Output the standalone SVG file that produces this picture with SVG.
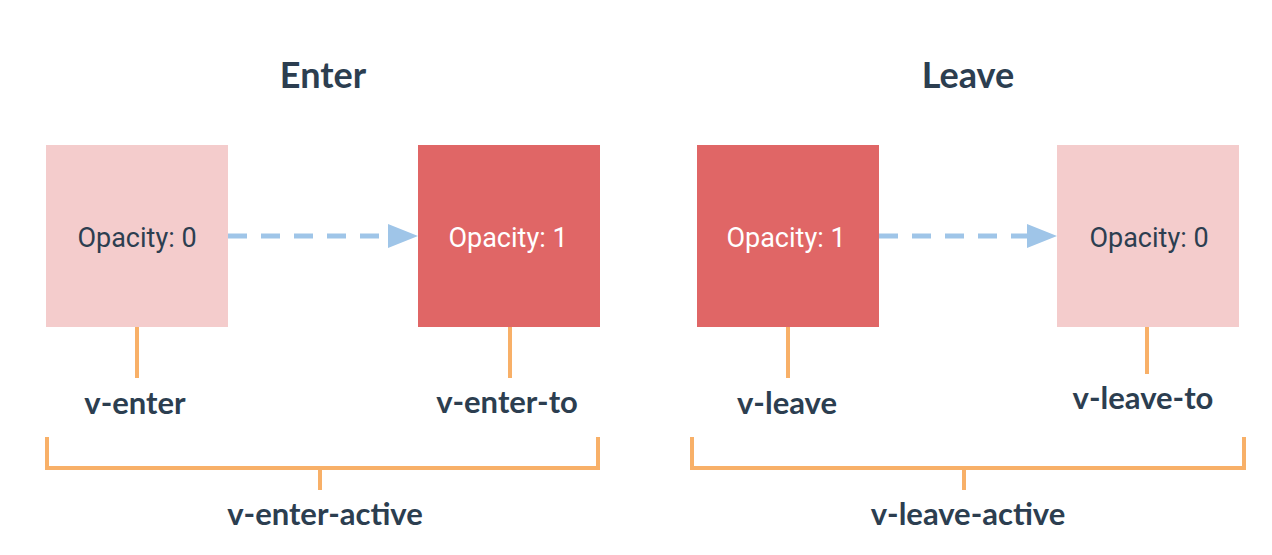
<svg xmlns="http://www.w3.org/2000/svg" width="1272" height="555" viewBox="0 0 1272 555">
<defs>
<style>
.light{fill:#f4cccc}
.dark{fill:#e06666}
.op{font-family:Roboto,"Liberation Sans",sans-serif;font-size:27px;text-anchor:middle}
.opd{fill:#2c3e50}
.opl{fill:#ffffff}
.title{font-family:Lato,"Liberation Sans",sans-serif;font-weight:700;font-size:36px;fill:#2c3e50;text-anchor:middle}
.lbl{font-family:Lato,"Liberation Sans",sans-serif;font-weight:700;font-size:31px;fill:#2c3e50;text-anchor:middle}
.tick{stroke:#f8b068;stroke-width:4;fill:none}
.dash{stroke:#9fc5e8;stroke-width:5;stroke-dasharray:19 14;fill:none}
</style>
</defs>
<rect width="1272" height="555" fill="#ffffff"/>
<text class="title" x="323" y="88">Enter</text>
<text class="title" x="968" y="88">Leave</text>
<g id="connectors">
<path class="dash" d="M228,236 H392"/>
<path d="M388,224 L418,236 L388,248 Z" fill="#9fc5e8"/>
<path class="dash" d="M879,236 H1030"/>
<path d="M1027,224 L1057,236 L1027,248 Z" fill="#9fc5e8"/>
<path class="tick" d="M137,327 V378"/>
<path class="tick" d="M510,327 V378"/>
<path class="tick" d="M788,327 V378"/>
<path class="tick" d="M1147,327 V374"/>
<path class="tick" d="M47,437 V468 H598 V437 M320,468 V490"/>
<path class="tick" d="M692,437 V468 H1244 V437 M964,468 V490"/>
</g>
<g id="enter-start">
<rect class="light" x="46" y="145" width="182" height="182"/>
<text class="op opd" x="137" y="247">Opacity: 0</text>
</g>
<g id="enter-end">
<rect class="dark" x="418" y="145" width="182" height="182"/>
<text class="op opl" x="508" y="247">Opacity: 1</text>
</g>
<g id="leave-start">
<rect class="dark" x="697" y="145" width="182" height="182"/>
<text class="op opl" x="786" y="247">Opacity: 1</text>
</g>
<g id="leave-end">
<rect class="light" x="1057" y="145" width="182" height="182"/>
<text class="op opd" x="1149" y="247">Opacity: 0</text>
</g>
<g id="v-enter"><text class="lbl" x="135" y="414">v-enter</text></g>
<g id="v-enter-to"><text class="lbl" x="507" y="413">v-enter-to</text></g>
<g id="v-leave"><text class="lbl" x="787" y="414">v-leave</text></g>
<g id="v-leave-to"><text class="lbl" x="1143" y="409">v-leave-to</text></g>
<g id="v-enter-active"><text class="lbl" x="325" y="525">v-enter-active</text></g>
<g id="v-leave-active"><text class="lbl" x="968" y="525">v-leave-active</text></g>
</svg>
